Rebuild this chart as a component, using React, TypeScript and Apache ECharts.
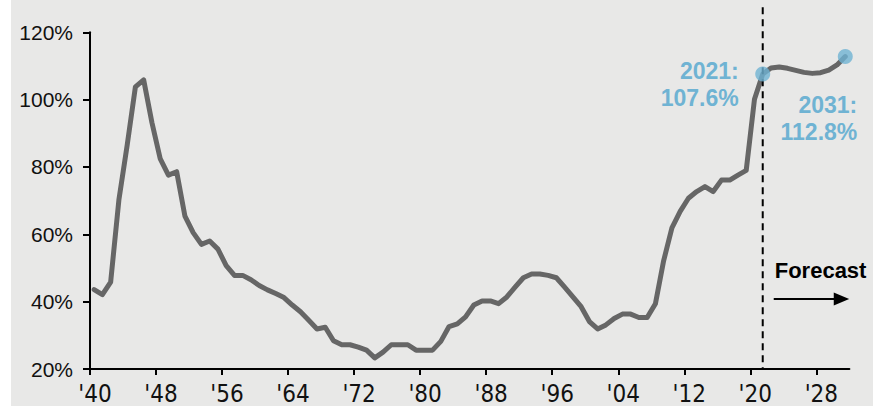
import { useEffect, useRef } from "react";
import * as echarts from "echarts";

// Federal debt held by the public, % of GDP (1940–2031; 2022+ forecast)
const FIRST_YEAR = 1940;
const debtRatio = [
  43.6, 42.1, 45.8, 70.2, 86.4, 103.8, 105.9, 93.2, 82.5, 77.6, // 1940-49
  78.6, 65.4, 60.5, 57.0, 58.0, 55.6, 50.7, 47.8, 47.8, 46.5, // 1950-59
  44.8, 43.5, 42.4, 41.2, 39.0, 37.0, 34.5, 31.9, 32.4, 28.4, // 1960-69
  27.2, 27.2, 26.5, 25.6, 23.3, 25.0, 27.2, 27.2, 27.2, 25.6, // 1970-79
  25.6, 25.6, 28.2, 32.6, 33.4, 35.5, 39.0, 40.2, 40.2, 39.4, // 1980-89
  41.4, 44.3, 47.1, 48.2, 48.2, 47.8, 47.1, 44.3, 41.4, 38.5, // 1990-99
  34.1, 31.9, 33.1, 35.0, 36.3, 36.3, 35.3, 35.3, 39.4, 52.2, // 2000-09
  61.9, 66.8, 70.7, 72.7, 74.2, 72.7, 76.1, 76.1, 77.6, 79.0, // 2010-19
  100.1, 107.6, 109.4, 109.7, 109.3, 108.7, 108.1, 107.8, 108.0, 108.8, // 2020-29
  110.3, 112.8, // 2030-31
];
const years = debtRatio.map((_, i) => FIRST_YEAR + i);
const highlightYears = [2021, 2031];
const forecastStartYear = 2021;
const tickYears = [1940, 1948, 1956, 1964, 1972, 1980, 1988, 1996, 2004, 2012, 2020, 2028];
const yTicks = [20, 40, 60, 80, 100, 120];
const forecastLabel = "Forecast";

const FONT = "'Liberation Sans', Arial, Helvetica, sans-serif";
const NARROW = "'Liberation Sans Narrow', 'Arial Narrow', 'DejaVu Sans Condensed', sans-serif";
const LINE_COLOR = "#666666";
const HIGHLIGHT = "#6fb3d3";

export default function App() {
  const ref = useRef<HTMLDivElement>(null);

  useEffect(() => {
    if (!ref.current) return;
    const chart = echarts.init(ref.current, undefined, { renderer: "svg" });
    const axisStyle = { color: "#000", width: 2 };
    const valueOf = (y: number) => debtRatio[y - FIRST_YEAR];

    chart.setOption({
      animation: false,
      backgroundColor: "#e8e8e7",
      grid: { left: 79, right: 23.6, top: 32.3, bottom: 33.3, containLabel: false },
      xAxis: {
        type: "value",
        min: FIRST_YEAR,
        max: years[years.length - 1] + 1,
        axisLine: { show: true, onZero: false, lineStyle: axisStyle },
        axisTick: { show: true, length: 6, lineStyle: axisStyle, customValues: tickYears },
        axisLabel: {
          // labels centred on the category (mid-year), ticks on boundaries
          customValues: tickYears.map((y) => y + 0.6),
          formatter: (v: number) => "'" + String(Math.floor(v)).slice(2),
          fontSize: 24,
          fontFamily: NARROW,
          color: "#111",
          margin: 13,
        },
        splitLine: { show: false },
      },
      yAxis: {
        type: "value",
        min: yTicks[0],
        max: yTicks[yTicks.length - 1],
        interval: 20,
        axisLine: { show: true, lineStyle: axisStyle },
        axisTick: { show: true, length: 7, lineStyle: axisStyle },
        axisLabel: {
          formatter: "{value}%",
          fontSize: 21,
          fontFamily: FONT,
          color: "#111",
          margin: 17,
        },
        splitLine: { show: false },
      },
      series: [
        {
          type: "line",
          data: years.map((y, i) => [y + 0.5, debtRatio[i]]),
          symbol: "none",
          lineStyle: { color: LINE_COLOR, width: 5, join: "round", cap: "round" },
          z: 2,
        },
        {
          type: "scatter",
          data: highlightYears.map((y) => [y + 0.5, valueOf(y)]),
          symbolSize: 15,
          itemStyle: { color: HIGHLIGHT },
          z: 4,
        },
      ],
    });

    const px = (x: number, y: number) =>
      chart.convertToPixel({ gridIndex: 0 }, [x, y]) as number[];
    const [xA, yA] = px(highlightYears[0] + 0.5, valueOf(highlightYears[0]));
    const [xB, yB] = px(highlightYears[1] + 0.5, valueOf(highlightYears[1]));
    const [xDash, yBottom] = px(forecastStartYear + 0.5, yTicks[0]);
    const [, yTop] = px(forecastStartYear + 0.5, yTicks[yTicks.length - 1]);

    const label = (y: number) => `${y}:\n${valueOf(y).toFixed(1)}%`;
    const annoFont = { fontFamily: FONT, fontWeight: "bold", fontSize: 23, lineHeight: 27 };

    chart.setOption({
      graphic: [
        {
          type: "line",
          z: 3,
          silent: true,
          shape: { x1: xDash, y1: yTop - 25, x2: xDash, y2: yBottom },
          style: { stroke: "#000", lineWidth: 2, lineDash: [7, 5] },
        },
        {
          type: "text",
          z: 5,
          x: xA - 24,
          y: yA + 10,
          style: {
            text: label(highlightYears[0]),
            ...annoFont,
            fill: HIGHLIGHT,
            align: "right",
            verticalAlign: "middle",
          },
        },
        {
          type: "text",
          z: 5,
          x: xB + 12,
          y: yB + 62,
          style: {
            text: label(highlightYears[1]),
            ...annoFont,
            fill: HIGHLIGHT,
            align: "right",
            verticalAlign: "middle",
          },
        },
        {
          type: "text",
          z: 5,
          x: xDash + 12,
          y: yBottom - 98.5,
          style: {
            text: forecastLabel,
            fontFamily: FONT,
            fontWeight: "bold",
            fontSize: 22,
            fill: "#000",
            align: "left",
            verticalAlign: "middle",
          },
        },
        {
          type: "line",
          z: 5,
          shape: { x1: xDash + 11, y1: yBottom - 70, x2: xDash + 74, y2: yBottom - 70 },
          style: { stroke: "#000", lineWidth: 2 },
        },
        {
          type: "polygon",
          z: 5,
          shape: {
            points: [
              [xDash + 71, yBottom - 76.5],
              [xDash + 86.5, yBottom - 70],
              [xDash + 71, yBottom - 63.5],
            ],
          },
          style: { fill: "#000" },
        },
      ],
    });

    return () => chart.dispose();
  }, []);

  return (
    <div
      style={{
        position: "fixed",
        left: 0,
        top: 0,
        width: 873,
        height: 406,
        background: "#ffffff",
      }}
    >
      <div
        ref={ref}
        style={{ position: "absolute", left: 11, top: 0, width: 862, height: 406 }}
      />
    </div>
  );
}
